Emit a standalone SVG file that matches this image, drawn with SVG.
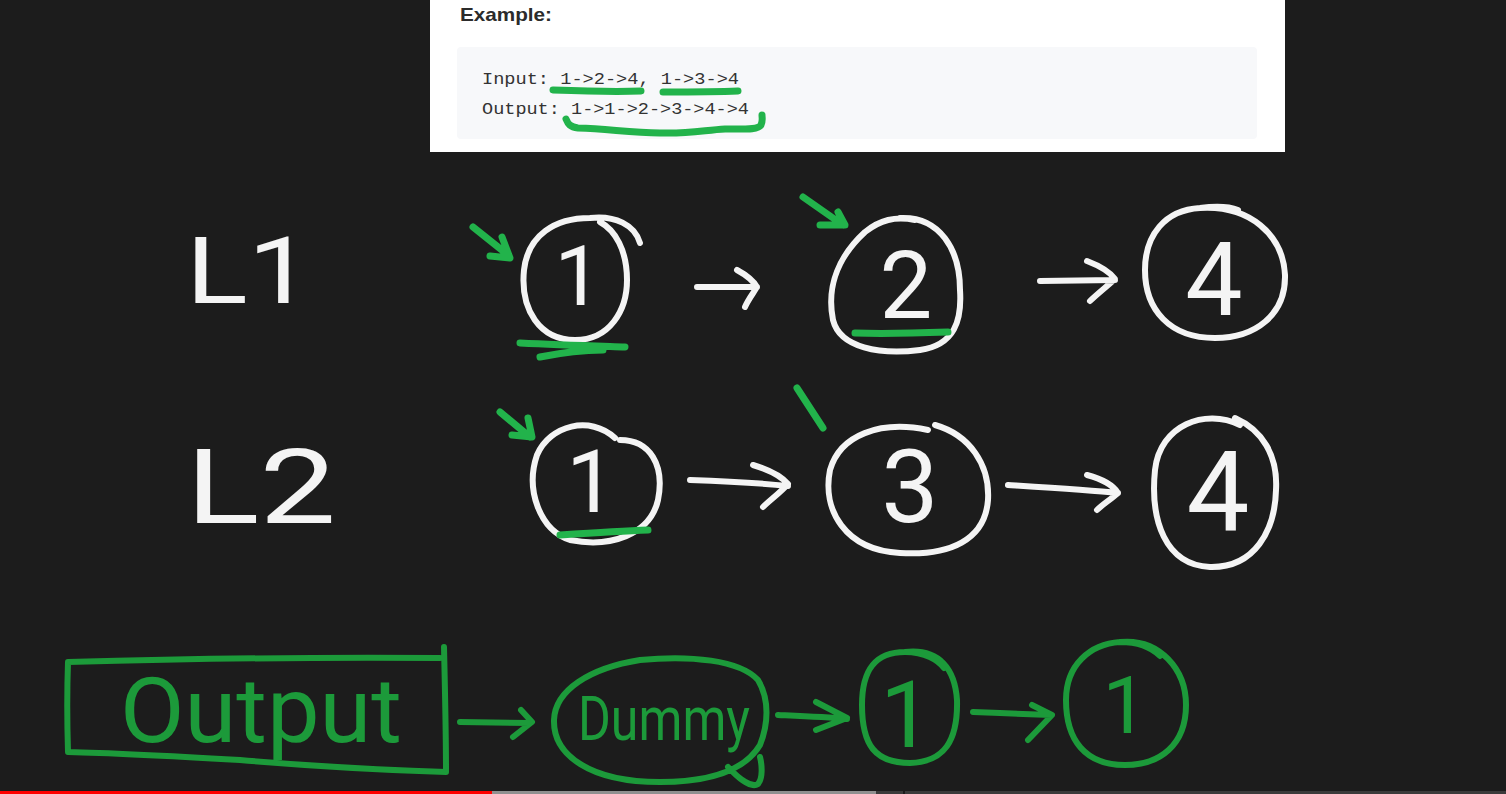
<svg xmlns="http://www.w3.org/2000/svg" width="1506" height="794" viewBox="0 0 1506 794">
<defs>
<style>
.ink{fill:none;stroke:#f4f4f4;stroke-width:6;stroke-linecap:round;stroke-linejoin:round}
.gk{fill:none;stroke:#22b34b;stroke-width:7;stroke-linecap:round;stroke-linejoin:round}
.gd{fill:none;stroke:#1c9a3a;stroke-width:6;stroke-linecap:round;stroke-linejoin:round}
.hw{font-family:Roboto,"Liberation Sans",sans-serif;font-weight:400;fill:#f4f4f4}
.hg{font-family:Roboto,"Liberation Sans",sans-serif;font-weight:400;fill:#1c9a3a}
.code{font-family:"Liberation Mono","DejaVu Sans Mono",monospace;font-size:16px;fill:#333333}
</style>
</defs>
<rect x="0" y="0" width="1506" height="794" fill="#1c1c1c"/>

<g id="example-panel">
<rect x="430" y="0" width="855" height="152" fill="#ffffff"/>
<rect x="457" y="47" width="800" height="92" rx="4" fill="#f7f8fa"/>
<text x="460" y="21" font-family="Liberation Sans, Noto Sans, sans-serif" font-weight="bold" font-size="19" fill="#2b2b2b" textLength="92" lengthAdjust="spacingAndGlyphs">Example:</text>
<text class="code" x="482" y="84" textLength="257" lengthAdjust="spacingAndGlyphs">Input: 1-&gt;2-&gt;4, 1-&gt;3-&gt;4</text>
<text class="code" x="482" y="114" textLength="267" lengthAdjust="spacingAndGlyphs">Output: 1-&gt;1-&gt;2-&gt;3-&gt;4-&gt;4</text>
<path class="gk" stroke-width="5" d="M553,90 C580,91 615,92 641,91"/>
<path class="gk" stroke-width="5" d="M663,92 C690,92 715,92 738,91"/>
<path class="gk" stroke-width="4" d="M566,119 C568,124 570,127 578,128 C610,129 630,133 660,133 C690,134 705,130 725,129 C745,129 758,130 761,125 C763,121 762,118 762,115"/>
</g>

<g id="label-L1"><text class="hw" x="186" y="303" font-size="92" textLength="126" lengthAdjust="spacingAndGlyphs">L1</text></g>
<g id="label-L2"><text class="hw" x="186" y="523" font-size="104" textLength="150" lengthAdjust="spacingAndGlyphs">L2</text></g>

<g id="l1-node-1">
<path class="ink" d="M640,243 C635,225 615,215 590,218 C555,218 528,235 524,270 C520,310 540,340 575,340 C610,340 627,310 627,280 C627,250 615,230 600,222"/>
<text class="hw" x="578" y="305" font-size="84" text-anchor="middle">1</text>
</g>
<g id="l1-node-2">
<path class="ink" d="M900,218 C940,216 960,250 960,290 C962,320 955,345 920,350 C880,355 840,348 833,320 C826,285 840,255 865,232 C880,220 895,216 915,220"/>
<text class="hw" x="906" y="318" font-size="94" text-anchor="middle">2</text>
</g>
<g id="l1-node-4">
<path class="ink" d="M1200,208 C1250,205 1283,235 1285,275 C1286,315 1255,338 1215,338 C1170,338 1145,310 1145,270 C1145,235 1165,210 1200,208 C1215,206 1228,206 1238,210"/>
<text class="hw" x="1214" y="315" font-size="102" text-anchor="middle">4</text>
</g>
<g id="l2-node-1">
<path class="ink" d="M615,438 C590,415 550,425 537,455 C525,490 540,530 570,540 C610,548 650,535 658,500 C665,465 650,440 620,440"/>
<text class="hw" x="591" y="512" font-size="88" text-anchor="middle">1</text>
</g>
<g id="l2-node-3">
<path class="ink" d="M928,430 C880,420 840,435 830,470 C822,510 845,550 900,553 C950,556 985,540 988,500 C990,465 970,435 935,425"/>
<text class="hw" x="910" y="522" font-size="102" text-anchor="middle">3</text>
</g>
<g id="l2-node-4">
<path class="ink" d="M1240,425 C1205,408 1160,425 1155,470 C1150,520 1165,565 1210,567 C1255,568 1275,530 1276,490 C1278,455 1262,430 1235,418"/>
<text class="hw" x="1218" y="530" font-size="112" text-anchor="middle">4</text>
</g>

<g id="output-box">
<path class="gd" d="M68,662 C180,659 320,657 440,658 M444,647 C445,690 446,730 446,772 C380,770 300,765 240,760 C170,756 110,753 68,752 C67,720 67,690 68,662"/>
<text class="hg" x="120" y="742" font-size="90" textLength="282" lengthAdjust="spacingAndGlyphs">Output</text>
</g>
<g id="dummy-node">
<path class="gd" d="M640,660 C690,655 740,660 758,680 C770,700 768,725 760,745 C745,770 710,782 660,782 C590,782 553,755 554,720 C555,690 590,668 640,660 M728,767 C740,780 752,788 758,784 C763,778 762,765 760,757"/>
<text class="hg" x="578" y="740" font-size="62" textLength="172" lengthAdjust="spacingAndGlyphs">Dummy</text>
</g>
<g id="out-node-1a">
<path class="gd" d="M905,652 C940,648 955,670 957,700 C958,740 945,762 910,763 C875,763 862,745 862,705 C862,670 875,652 905,652 C925,652 938,660 944,668"/>
<text class="hg" x="906" y="747" font-size="92" text-anchor="middle">1</text>
</g>
<g id="out-node-1b">
<path class="gd" d="M1120,642 C1160,638 1186,670 1186,705 C1186,745 1160,765 1125,765 C1085,765 1066,740 1066,700 C1066,665 1090,644 1120,642 C1140,642 1152,648 1160,656"/>
<text class="hg" x="1125" y="733" font-size="80" text-anchor="middle">1</text>
</g>

<g id="connectors">
<path class="ink" d="M697,287 L757,287 M737,270 C748,276 754,282 757,287 C752,295 748,300 745,307"/>
<path class="ink" d="M1040,281 L1115,280 M1087,261 C1100,266 1110,272 1115,279 C1105,288 1096,295 1090,301"/>
<path class="ink" d="M690,480 C720,481 760,483 788,486 M753,465 C770,470 782,477 788,484 C780,493 770,500 763,507"/>
<path class="ink" d="M1008,485 C1040,487 1090,490 1118,493 M1087,475 C1102,479 1113,485 1118,493 C1110,500 1102,505 1097,510"/>
<path class="gd" d="M460,722 L530,723 M521,710 L532,722 L513,737"/>
<path class="gd" d="M778,715 C800,716 825,717 847,719 M816,702 L847,718 L816,730"/>
<path class="gd" d="M973,712 C1000,713 1030,714 1051,715 M1032,705 L1052,715 L1028,740"/>
</g>

<g id="annotations">
<path class="gk" d="M473,227 L508,255 M490,256 L510,258 L502,237"/>
<path class="gk" d="M803,197 L843,225 M820,225 L845,225 L838,212"/>
<path class="gk" d="M500,412 L530,437 M512,435 L532,437 L528,418"/>
<path class="gk" stroke-width="6" d="M797,388 L823,428"/>
<path class="gk" stroke-width="9" d="M520,343 C560,345 595,346 625,347 M540,357 C560,353 580,350 603,350"/>
<path class="gk" stroke-width="8" d="M855,333 C885,334 920,333 948,332"/>
<path class="gk" stroke-width="8" d="M560,535 C590,533 620,531 648,530"/>
</g>

<g id="progress-bar">
<rect x="0" y="791" width="492" height="3" fill="#ff0000"/>
<rect x="492" y="791" width="384" height="3" fill="#909090"/>
<rect x="876" y="791" width="630" height="3" fill="#3b3b3b"/>
<rect x="903" y="791" width="2" height="3" fill="#1c1c1c"/>
</g>
</svg>
